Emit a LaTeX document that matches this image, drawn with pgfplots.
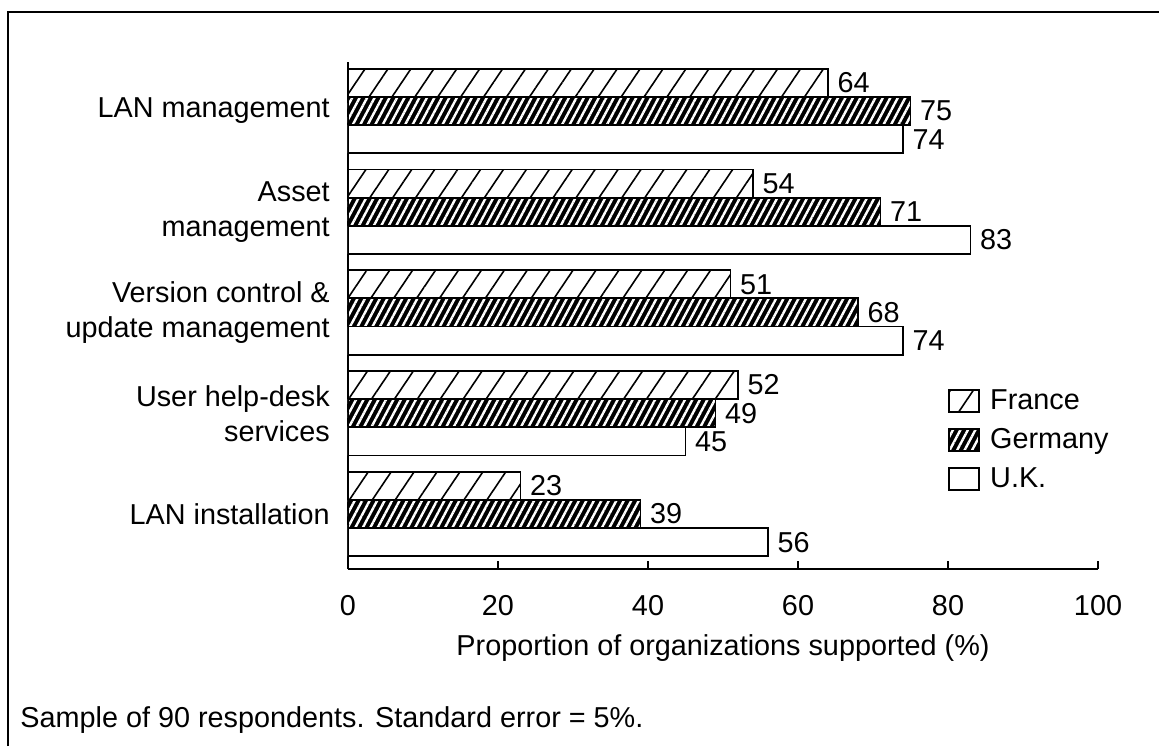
\documentclass[border=0pt]{standalone}
\usepackage{fontspec}
\setmainfont{Liberation Sans}
\usepackage{pgfplots}
\pgfplotsset{compat=1.18}
\usetikzlibrary{patterns.meta}

\newcommand{\lblfont}{\fontsize{14.4}{17.5}\selectfont}

\begin{document}
\begin{tikzpicture}[x=1pt,y=1pt]
\useasboundingbox (-174,-88.5) rectangle (405.5,284.5);
% page frame (left and top only)
\draw[line width=1.4pt] (-170,-88.5) -- (-170,278.5) -- (405.5,278.5);

\begin{axis}[
    at={(0,0)}, anchor=south west,
    scale only axis, width=375pt, height=253.5pt,
    xbar, bar width=0.28,
    xmin=0, xmax=100, ymin=-0.546, ymax=4.486,
    axis x line*=bottom, axis y line*=left,
    axis line style={line width=1.1pt},
    xtick={0,20,40,60,80,100},
    ytick={0,1,2,3,4},
    yticklabels={LAN installation, {User help-desk\\services}, {Version control \&\\update management}, {Asset\\management}, LAN management},
    tick align=inside, major tick length=4pt,
    xtick style={line width=1.1pt, black},
    ytick style={draw=none},
    /pgf/number format/assume math mode=true,
    tick label style={font=\lblfont},
    yticklabel style={align=right, xshift=-5.6pt},
    xticklabel style={yshift=-9.5pt},
    xlabel={Proportion of organizations supported (\%)},
    xlabel style={font=\lblfont, at={(axis description cs:0.5,0)}, anchor=north, yshift=-29.5pt},
    nodes near coords,
    every node near coord/.append style={font=\lblfont, xshift=1pt, black},
    legend image code/.code={\draw[#1] (0pt,-5.5pt) rectangle (15pt,5.5pt);},
    legend style={draw=none, fill=none, at={(0.792,0.37)}, anchor=north west,
                  row sep=4pt, font=\lblfont,
                  nodes={inner xsep=5pt}},
    legend cell align=left,
]
\addplot[bar shift=0.28, draw=black, line width=0.9pt,
    pattern={Lines[angle=56,distance=9.5pt,line width=0.8pt]}]
    coordinates {(64,4) (54,3) (51,2) (52,1) (23,0)};
\addlegendentry{France}

\addplot[bar shift=0, draw=black, line width=0.9pt, fill=black,
    postaction={pattern={Lines[angle=62,distance=3.3pt,line width=1.2pt]}, pattern color=white}]
    coordinates {(75,4) (71,3) (68,2) (49,1) (39,0)};
\addlegendentry{Germany}

\addplot[bar shift=-0.28, draw=black, line width=0.9pt, fill=white]
    coordinates {(74,4) (83,3) (74,2) (45,1) (56,0)};
\addlegendentry{U.K.}
\end{axis}

\node[anchor=west, font=\lblfont, inner sep=0pt] at (-164,-75.5)
    {Sample of 90 respondents. Standard error = 5\%.};
\end{tikzpicture}
\end{document}
